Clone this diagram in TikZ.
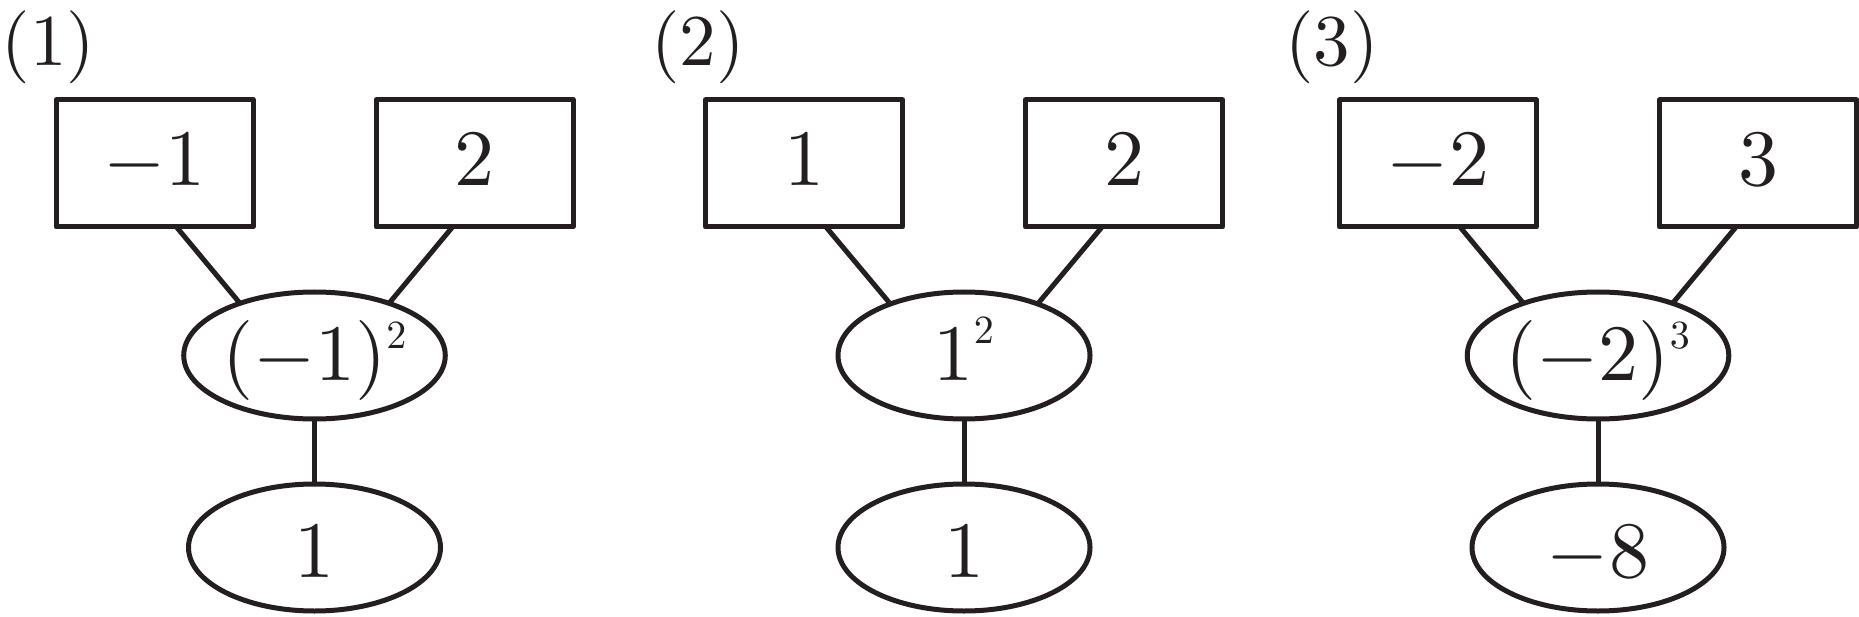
\RequirePackage{fix-cm}
\documentclass[tikz,border=0pt]{standalone}
\DeclareFontShape{OT1}{cmr}{m}{n}{<->cmr10}{}
\DeclareFontShape{OMS}{cmsy}{m}{n}{<->cmsy10}{}
\usetikzlibrary{shapes.geometric,calc}
\definecolor{ink}{RGB}{35,31,32}
\newcommand{\supr}[2]{^{\raisebox{#1}{$\scriptscriptstyle #2$}}}
\begin{document}
\begin{tikzpicture}[x=1pt,y=-1pt,line join=round,
  numbox/.style={draw=ink, text=ink, rectangle, line width=5pt,
    minimum width=197pt, minimum height=127pt, inner sep=0pt, outer sep=0pt,
    font=\fontsize{80}{96}\selectfont, text height=51.5pt, text depth=7.5pt},
  powell/.style={draw=ink, text=ink, ellipse, line width=5pt,
    minimum width=252pt, minimum height=127pt, inner sep=0pt, outer sep=0pt,
    font=\fontsize{80}{96}\selectfont, text height=60pt, text depth=11pt},
  resell/.style={powell, text height=60pt, text depth=0pt},
  lab/.style={text=ink, font=\fontsize{73}{88}\selectfont, anchor=base west, inner sep=0pt},
  conn/.style={draw=ink, line width=5pt}]
\useasboundingbox (0,0) rectangle (1859,617);
% panel 1
\node[lab] (l1) at (1.5,65.5) {$(1)$};
\node[numbox] (a1) at (154.5,163.5) {$-1$};
\node[numbox] (b1) at (474.5,163.5) {$2$};
\node[powell] (p1) at (314.5,355.5) {$(-1)\supr{2pt}{2}$};
\node[resell] (r1) at (314.5,547.5) {$1$};
\draw[conn] ($(a1.south)+(22,0)$) -- (p1.145);
\draw[conn] ($(b1.south)+(-22,0)$) -- (p1.35);
\draw[conn] (p1.south) -- (r1.north);
% panel 2
\node[lab] (l2) at (651,65.5) {$(2)$};
\node[numbox] (a2) at (804,163.5) {$1$};
\node[numbox] (b2) at (1124,163.5) {$2$};
\node[powell] (p2) at (964,355.5) {$1\supr{7pt}{2}$};
\node[resell] (r2) at (964,547.5) {$1$};
\draw[conn] ($(a2.south)+(22,0)$) -- (p2.145);
\draw[conn] ($(b2.south)+(-22,0)$) -- (p2.35);
\draw[conn] (p2.south) -- (r2.north);
% panel 3
\node[lab] (l3) at (1285,65.5) {$(3)$};
\node[numbox] (a3) at (1438,163.5) {$-2$};
\node[numbox] (b3) at (1758,163.5) {$3$};
\node[powell] (p3) at (1598,355.5) {$(-2)\supr{2pt}{3}$};
\node[resell] (r3) at (1598,547.5) {$-8$};
\draw[conn] ($(a3.south)+(22,0)$) -- (p3.145);
\draw[conn] ($(b3.south)+(-22,0)$) -- (p3.35);
\draw[conn] (p3.south) -- (r3.north);
\end{tikzpicture}
\end{document}
